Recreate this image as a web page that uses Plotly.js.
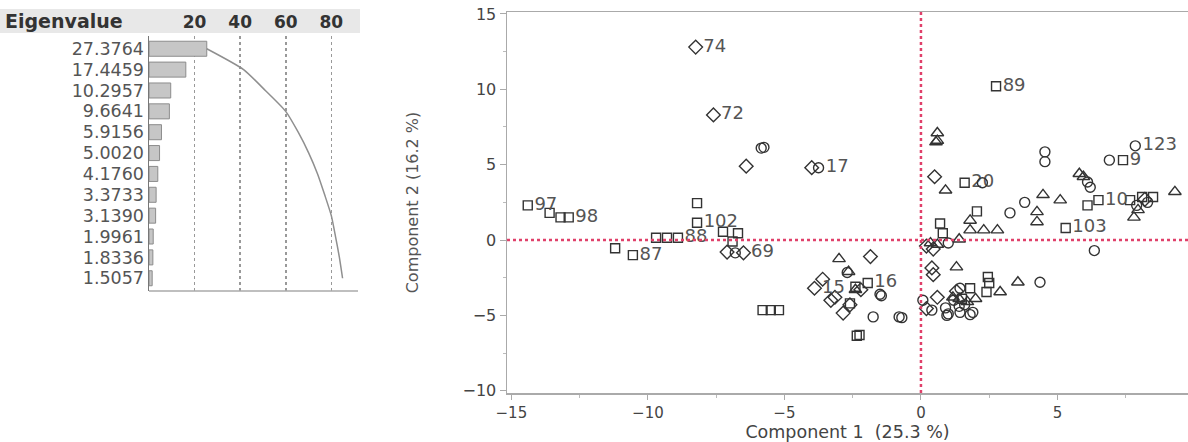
<!DOCTYPE html>
<html>
<head>
<meta charset="utf-8">
<script src="https://cdn.plot.ly/plotly-3.0.1.min.js"></script>
<style>
  html, body { margin: 0; padding: 0; background: #fff; }
  #chart { width: 1188px; height: 442px; }
</style>
</head>
<body>
<div id="chart"></div>
<script>
// ---------- Eigenvalue panel data ----------
const eigenvalues = [27.3764, 17.4459, 10.2957, 9.6641, 5.9156, 5.0020, 4.1760, 3.3733, 3.1390, 1.9961, 1.8336, 1.5057];
const totalVariance = 108;
const pctTicks = [20, 40, 60, 80];

// ---------- Score plot data (Component 1, Component 2) ----------
const squareX = [-14.4, -13.6, -13.2, -12.9, -11.2, -10.55, -9.7, -9.3, -8.9, -8.2, -8.2, -7.25, -6.7, -6.9, -5.8, -5.5, -5.2, -2.4, -1.95, -2.6, -2.35, -2.25, 2.75, 1.6, 7.4, 6.1, 6.5, 7.66, 8.1, 8.5, 0.7, 0.8, 2.05, 5.3, 2.45, 2.5, 2.4, 1.8, 1.5];
const squareY = [2.3, 1.8, 1.5, 1.5, -0.55, -1.0, 0.15, 0.15, 0.15, 2.45, 1.15, 0.55, 0.45, -0.1, -4.65, -4.65, -4.65, -3.1, -2.85, -4.2, -6.35, -6.3, 10.2, 3.8, 5.3, 2.3, 2.65, 2.65, 2.85, 2.85, 1.1, 0.45, 1.9, 0.8, -2.45, -2.85, -3.45, -3.2, -3.9];
const squareLabel = ["97", "", "", "98", "", "87", "", "", "88", "", "102", "", "", "", "", "", "", "", "16", "", "", "", "89", "20", "9", "", "10", "", "", "", "", "", "", "103", "", "", "", "", ""];

const circleX = [-5.85, -5.75, -3.75, -6.8, -2.7, -1.5, -1.45, -1.75, -0.8, -0.7, 4.54, 4.54, 7.85, 6.9, 6.1, 6.2, 2.25, 3.8, 3.26, 6.35, 4.36, 0.4, 0.95, 1.43, 1.9, 1.2, 1.6, 0.9, 1.4, 1.0, 1.8, 7.9, 8.3, 1.0, 1.43, 0.07];
const circleY = [6.1, 6.15, 4.8, -0.85, -2.15, -3.6, -3.7, -5.1, -5.1, -5.15, 5.85, 5.2, 6.25, 5.3, 3.85, 3.5, 3.8, 2.5, 1.8, -0.7, -2.8, -4.65, -5.0, -4.8, -4.8, -4.0, -4.3, -4.5, -4.4, -4.9, -4.95, 2.3, 2.5, -0.2, -3.2, -4.0];
const circleLabel = ["", "", "17", "", "", "", "", "", "", "", "", "", "123", "", "", "", "", "", "", "", "", "", "", "", "", "", "", "", "", "", "", "", "", "", "", ""];

const diamondX = [-8.25, -7.6, -6.4, -4.0, -7.1, -6.5, -1.85, -3.6, -3.9, -3.15, -2.85, -2.6, -3.3, 0.5, 0.4, 0.45, 0.2, 0.45, 8.2, 1.3, 0.6, -2.2, 0.2];
const diamondY = [12.8, 8.3, 4.9, 4.8, -0.8, -0.85, -1.1, -2.6, -3.2, -3.8, -4.85, -4.3, -4.0, 4.2, -1.85, -2.3, -0.4, -0.6, 2.7, -3.4, -3.8, -3.3, -4.55];
const diamondLabel = ["74", "72", "", "", "", "69", "", "", "15", "", "", "", "", "", "", "", "", "", "", "", "", "", ""];

const triangleX = [-3.0, -2.65, -2.4, 0.6, 0.6, 0.55, 0.9, 5.8, 5.95, 9.3, 4.47, 5.1, 4.25, 4.25, 1.8, 1.8, 2.3, 2.8, 7.8, 7.95, 0.6, 1.4, 0.35, 1.3, 3.55, 2.9, 1.17, 1.4, 2.0, 1.7];
const triangleY = [-1.25, -2.1, -3.3, 7.1, 6.6, 6.5, 3.3, 4.4, 4.2, 3.2, 3.0, 2.65, 1.87, 1.2, 1.3, 0.66, 0.66, 0.66, 1.5, 2.0, -0.3, 0.05, -0.2, -1.8, -2.8, -3.45, -3.8, -3.9, -3.9, -4.1];

const xTicks = [-15, -10, -5, 0, 5];
const yTicks = [-10, -5, 0, 5, 10, 15];

// ---------- derived ----------
const eigLabels = eigenvalues.map(v => v.toFixed(4));
const pct = eigenvalues.map(v => v / totalVariance * 100);
const cumPct = [];
pct.reduce((acc, p) => { const c = acc + p; cumPct.push(c); return c; }, 0);

const W = 1188, H = 442;
const px = v => v / W;
const py = v => 1 - v / H;

const FONT = "DejaVu Sans";
const markerLine = { color: "#333", width: 1.4 };

function scoreTrace(x, y, text, symbol, size) {
  return {
    type: "scatter", mode: text ? "markers+text" : "markers",
    x: x, y: y, text: text, textposition: "middle right",
    textfont: { family: FONT, size: 18, color: "#555" },
    marker: { symbol: symbol, size: size, color: "#333", line: markerLine },
    xaxis: "x", yaxis: "y", hoverinfo: "x+y", cliponaxis: true
  };
}

const data = [
  scoreTrace(squareX, squareY, squareLabel, "square-open", 9),
  scoreTrace(circleX, circleY, circleLabel, "circle-open", 10),
  scoreTrace(diamondX, diamondY, diamondLabel, "diamond-open", 10.5),
  scoreTrace(triangleX, triangleY, null, "triangle-up-open", 11),
  {
    type: "bar", orientation: "h", x: pct, y: eigLabels,
    xaxis: "x2", yaxis: "y2", width: 0.72,
    marker: { color: "#c6c6c6", line: { color: "#8c8c8c", width: 1 } },
    hoverinfo: "x"
  },
  {
    type: "scatter", mode: "lines", x: cumPct, y: eigLabels,
    xaxis: "x2", yaxis: "y2",
    line: { color: "#8f8f8f", width: 1.5, shape: "spline", smoothing: 0.6 },
    hoverinfo: "x"
  }
];

const layout = {
  width: W, height: H,
  margin: { l: 0, r: 0, t: 0, b: 0 },
  paper_bgcolor: "#fff", plot_bgcolor: "rgba(0,0,0,0)",
  showlegend: false,
  font: { family: FONT, color: "#444" },
  xaxis: {
    domain: [px(507), 1], range: [-15.16, 9.78], anchor: "y",
    tickvals: xTicks, ticks: "outside", ticklen: 5, tickcolor: "#aaa", tickwidth: 1,
    minor: { dtick: 2.5, ticks: "outside", ticklen: 3, tickcolor: "#bbb" },
    showline: true, linecolor: "#aaa", linewidth: 1.5, mirror: true,
    showgrid: false, zeroline: false,
    tickfont: { family: FONT, size: 15, color: "#444" },
    title: { text: "Component 1&nbsp;&nbsp;(25.3 %)", font: { family: FONT, size: 17.5, color: "#444" }, standoff: 3 }
  },
  yaxis: {
    domain: [py(393), py(12)], range: [-10.15, 15.13], anchor: "x",
    tickvals: yTicks, ticks: "outside", ticklen: 6, tickcolor: "#aaa", tickwidth: 1,
    minor: { dtick: 2.5, ticks: "outside", ticklen: 3, tickcolor: "#bbb" },
    showline: true, linecolor: "#aaa", linewidth: 1.5,
    showgrid: false, zeroline: false,
    tickfont: { family: FONT, size: 16, color: "#444" },
    title: { text: "Component 2 (16.2 %)", font: { family: FONT, size: 16, color: "#555" }, standoff: 40 }
  },
  xaxis2: {
    domain: [px(149), px(358)], range: [0, 91.7], anchor: "y2", side: "top",
    tickvals: pctTicks, ticks: "", ticklabelstandoff: 4,
    tickfont: { family: FONT, size: 17, color: "#333", weight: "bold" },
    showgrid: true, gridcolor: "#999", griddash: "dot", gridwidth: 1.5,
    showline: false, zeroline: false, fixedrange: true
  },
  yaxis2: {
    domain: [py(291), py(36)], anchor: "x2", type: "category", autorange: "reversed",
    tickmode: "array", tickvals: eigLabels, ticktext: eigLabels,
    tickfont: { family: FONT, size: 17.5, color: "#555" }, ticks: "",
    showline: true, linecolor: "#777", linewidth: 1.5, showgrid: false, zeroline: false
  },
  shapes: [
    { type: "rect", xref: "paper", yref: "paper", x0: 0, x1: px(360), y0: py(33), y1: py(9),
      fillcolor: "#e8e8e8", line: { width: 0 }, layer: "below" },
    { type: "line", xref: "x2 domain", yref: "y2 domain", x0: 0, x1: 1, y0: 0, y1: 0,
      line: { color: "#aaa", width: 1.5 } },
    { type: "line", xref: "x", yref: "y domain", x0: 0, x1: 0, y0: 0, y1: 1,
      line: { color: "#e0406a", width: 2.5, dash: "dot" } },
    { type: "line", xref: "x domain", yref: "y", x0: 0, x1: 1, y0: 0, y1: 0,
      line: { color: "#e0406a", width: 2.5, dash: "dot" } }
  ],
  annotations: [
    { text: "<b>Eigenvalue</b>", xref: "paper", yref: "paper", x: px(3), y: py(21),
      xanchor: "left", yanchor: "middle", showarrow: false,
      font: { family: FONT, size: 19, color: "#333" } }
  ]
};

Plotly.newPlot("chart", data, layout, { staticPlot: true, displayModeBar: false });
</script>
</body>
</html>
